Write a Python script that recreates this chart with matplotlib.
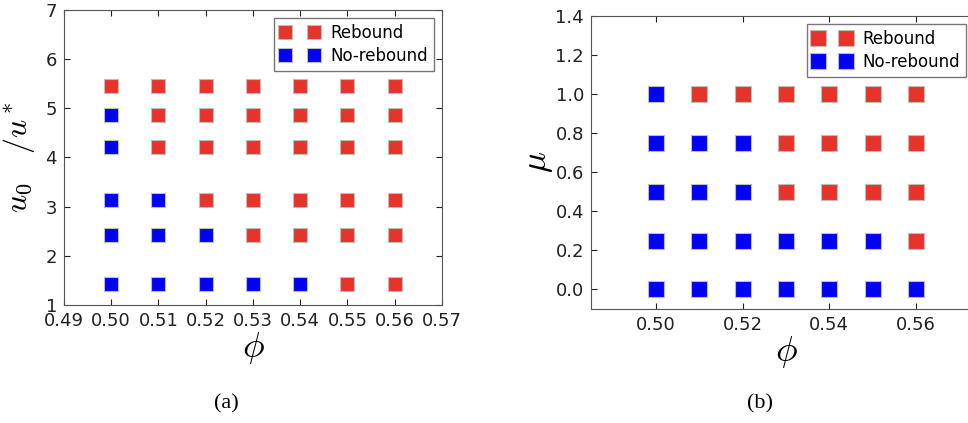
import matplotlib
matplotlib.use('Agg')
from matplotlib import pyplot as plt
import numpy as np

plt.rcParams['mathtext.fontset'] = 'cm'

# packing fraction on the x axis of both panels
phi = [0.50, 0.51, 0.52, 0.53, 0.54, 0.55, 0.56]

# (a) impact velocity levels, and which runs rebounded (1) or not (0)
u_ratio = [1.43, 2.43, 3.13, 4.21, 4.87, 5.45]
rebound_a = [
    [0, 0, 0, 0, 0, 1, 1],
    [0, 0, 0, 1, 1, 1, 1],
    [0, 0, 1, 1, 1, 1, 1],
    [0, 1, 1, 1, 1, 1, 1],
    [0, 1, 1, 1, 1, 1, 1],
    [1, 1, 1, 1, 1, 1, 1],
]

# (b) friction coefficient levels
mu = [0.0, 0.25, 0.5, 0.75, 1.0]
rebound_b = [
    [0, 0, 0, 0, 0, 0, 0],
    [0, 0, 0, 0, 0, 0, 1],
    [0, 0, 0, 1, 1, 1, 1],
    [0, 0, 0, 1, 1, 1, 1],
    [0, 1, 1, 1, 1, 1, 1],
]

red = '#e8332a'
blue = '#0000ff'
edge = '#bdbdbd'


def draw_panel(ax, yvals, grid, ms):
    grid = np.array(grid)
    X, Y = np.meshgrid(phi, yvals)
    r = grid == 1
    ax.plot(X[r], Y[r], 's', color=red, mec=edge, mew=0.8, ms=ms, label='Rebound')
    ax.plot(X[~r], Y[~r], 's', color=blue, mec=edge, mew=0.8, ms=ms, label='No-rebound')
    ax.tick_params(direction='in', top=True, right=True, length=4, labelsize=13,
                   colors='#222222', pad=5)
    for sp in ax.spines.values():
        sp.set_color('#555555')


def add_legend(ax, **kw):
    leg = ax.legend(numpoints=2, fontsize=12, fancybox=False, handlelength=2.3,
                    handletextpad=0.7, borderpad=0.35, labelspacing=0.3, **kw)
    leg.get_frame().set_edgecolor('#555555')
    return leg


fig = plt.figure(figsize=(9.68, 4.23), dpi=100)

ax1 = fig.add_axes([0.0661, 0.279, 0.3905, 0.6974])
draw_panel(ax1, u_ratio, rebound_a, 10)
ax1.set_xlim(0.49, 0.57)
ax1.set_ylim(1, 7)
ax1.set_xticks(np.arange(0.49, 0.5701, 0.01))
ax1.set_xticklabels(['%.2f' % v for v in np.arange(0.49, 0.5701, 0.01)])
ax1.set_yticks(range(1, 8))
ax1.set_xlabel(r'$\phi$', fontsize=26, labelpad=0)
ax1.set_ylabel(r'$u_0\quad/u^*$', fontsize=23, labelpad=6)
add_legend(ax1, loc='upper right')

ax2 = fig.add_axes([0.6105, 0.2695, 0.403, 0.6927])
draw_panel(ax2, mu, rebound_b, 11.5)
ax2.set_xlim(0.485, 0.575)
ax2.set_ylim(-0.1, 1.4)
ax2.set_xticks([0.50, 0.52, 0.54, 0.56])
ax2.set_yticks(np.arange(0.0, 1.41, 0.2))
ax2.set_xlabel(r'$\phi$', fontsize=26, labelpad=0)
ax2.set_ylabel(r'$\mu$', fontsize=25, labelpad=0)
add_legend(ax2, loc='upper right', bbox_to_anchor=(0.9615, 0.973), borderaxespad=0)

fig.text(0.2335, 0.045, '(a)', fontsize=16, family='Liberation Serif', ha='center', va='center')
fig.text(0.785, 0.045, '(b)', fontsize=16, family='Liberation Serif', ha='center', va='center')

fig.savefig('out.png', dpi=100)
